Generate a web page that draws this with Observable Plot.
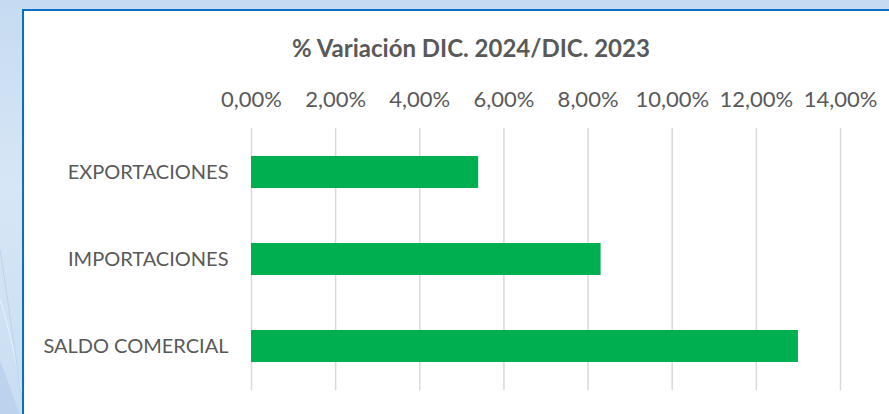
<!DOCTYPE html>
<html>
<head>
<meta charset="utf-8">
<script src="https://cdn.jsdelivr.net/npm/d3@7"></script>
<script src="https://cdn.jsdelivr.net/npm/@observablehq/plot@0.6"></script>
<style>
  html, body { margin: 0; padding: 0; }
  body { width: 889px; height: 414px; overflow: hidden; position: relative;
         background: linear-gradient(180deg, #c6dbf1 0%, #d7e6f6 45%, #c9ddf2 100%); font-family: Lato, "Open Sans", sans-serif; }
  #deco { position: absolute; left: 0; top: 0; }
  #panel { position: absolute; left: 22px; top: 9px; width: 880px; height: 420px;
           background: #ffffff; border: 2px solid #0a6ec3; box-sizing: border-box; }
  #title { position: absolute; left: 0; top: 33px; width: 942px; text-align: center; line-height: 29px;
           font-weight: bold; font-size: 24px; color: #595959; font-family: Lato, "Open Sans", sans-serif; }
  #chart { position: absolute; left: 0; top: 0; }
</style>
</head>
<body>
<svg id="deco" width="30" height="414">
  <path d="M0,300 C10,330 18,370 26,414" stroke="#e8f1fb" stroke-width="1" fill="none"/>
  <path d="M0,250 C8,300 16,360 24,414" stroke="#bcd3ee" stroke-width="1" fill="none"/>
  <path d="M0,360 C8,380 14,400 20,414 L0,414 Z" fill="#b6cfeb" opacity="0.7"/>
</svg>
<div id="panel"></div>
<div id="title">% Variación DIC. 2024/DIC. 2023</div>
<div id="chart"></div>
<script>
const categories = ["EXPORTACIONES", "IMPORTACIONES", "SALDO COMERCIAL"];
const values = [5.40, 8.31, 13.00];
const xTicks = [0, 2, 4, 6, 8, 10, 12, 14];

const data = categories.map((c, i) => ({category: c, value: values[i]}));
const fmt = v => v.toFixed(2).replace(".", ",") + "%";

const chart = Plot.plot({
  width: 889,
  height: 414,
  marginLeft: 251,
  marginRight: 49,
  marginTop: 128,
  marginBottom: 24,
  style: {background: "transparent", fontFamily: "Lato, 'Open Sans', sans-serif", fontSize: "20px", color: "#595959"},
  x: {domain: [0, 14], ticks: xTicks, axis: null},
  y: {domain: categories, paddingInner: 0.63, paddingOuter: 0.315, axis: null},
  marks: [
    Plot.ruleX(xTicks, {x: d => d, stroke: "#d9d9d9", strokeWidth: 1.5, strokeOpacity: 1}),
    Plot.barX(data, {y: "category", x: "value", fill: "#00b050"}),
    Plot.axisX({anchor: "top", ticks: xTicks, tickSize: 0, tickPadding: 22, tickFormat: fmt, fontSize: 22, fill: "#595959", label: null}),
    Plot.axisY({anchor: "left", tickSize: 0, tickPadding: 23, fontSize: 20, fill: "#595959", label: null})
  ]
});
document.getElementById("chart").appendChild(chart);
</script>
</body>
</html>
